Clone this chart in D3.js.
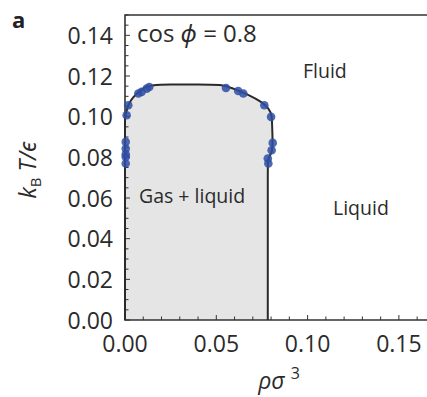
<!DOCTYPE html>
<html>
<head>
<meta charset="utf-8">
<script src="https://cdn.jsdelivr.net/npm/d3@7"></script>
<style>
  body { margin: 0; background: #fff; }
  svg { display: block; font-family: "Open Sans", "Noto Sans", sans-serif; }
</style>
</head>
<body>
<svg id="chart"></svg>
<script>
// coexistence boundary (rho sigma^3, kT/eps)
const boundaryRho = [0, 0, 0.0008, 0.0020, 0.0045, 0.0080, 0.0125, 0.0170, 0.0250, 0.0400, 0.0520, 0.0570, 0.0620, 0.0680, 0.0740, 0.0785, 0.0803, 0.0806, 0.0808, 0.0804, 0.0792, 0.0783, 0.0782, 0.0782];
const boundaryT   = [0, 0.0990, 0.1025, 0.1060, 0.1095, 0.1125, 0.1148, 0.1156, 0.1158, 0.1158, 0.1156, 0.1145, 0.1128, 0.1105, 0.1075, 0.1040, 0.1000, 0.0950, 0.0870, 0.0830, 0.0805, 0.0780, 0.0700, 0];

// simulation points
const pointRho = [0.0018, 0.0009, 0.0073, 0.0091, 0.0119, 0.0133, 0.0553, 0.0620, 0.0648, 0.0763, 0.0800, 0.0809, 0.0803, 0.0782, 0.0785, 0.0004, 0.0004, 0.0004, 0.0004, 0.0004];
const pointT   = [0.1056, 0.1007, 0.1114, 0.1122, 0.1138, 0.1146, 0.1141, 0.1126, 0.1114, 0.1056, 0.0999, 0.0871, 0.0835, 0.0794, 0.0770, 0.0876, 0.0843, 0.0802, 0.0770, 0.0815];

const xTicks = [0, 0.05, 0.10, 0.15];
const yTicks = [0, 0.02, 0.04, 0.06, 0.08, 0.10, 0.12, 0.14];
const regionLabels = ["Gas + liquid", "Liquid", "Fluid"];

const width = 427, height = 397;
const margin = { top: 15, left: 125, bottom: 77 };

const svg = d3.select("#chart").attr("width", width).attr("height", height);

const x = d3.scaleLinear().domain([0, 0.17]).range([margin.left, margin.left + 0.17 * 1826]);
const y = d3.scaleLinear().domain([0, 0.15]).range([height - margin.bottom, margin.top]);

const boundary = boundaryRho.map((r, i) => [r, boundaryT[i]]);
const points = pointRho.map((r, i) => [r, pointT[i]]);

// shaded two-phase region
svg.append("path")
  .attr("d", d3.area().x(d => x(d[0])).y0(y(0)).y1(d => y(d[1])).curve(d3.curveMonotoneY)(boundary))
  .attr("fill", "#e5e5e5");

// frame (left, top, bottom)
const x0 = x(0), x1 = x(0.17), yT = y(0.15), yB = y(0);
svg.append("path")
  .attr("d", `M${x1},${yT}H${x0}V${yB}H${x1}`)
  .attr("fill", "none").attr("stroke", "#333").attr("stroke-width", 1.6);

// inward ticks
const xMinor = d3.range(0, 0.171, 0.01);
svg.append("g").selectAll("line").data(xMinor).join("line")
  .attr("x1", d => x(d)).attr("x2", d => x(d))
  .attr("y1", yB).attr("y2", (d, i) => yB - (i % 5 === 0 ? 5 : 3.5))
  .attr("stroke", "#333").attr("stroke-width", 1);
const yMinor = d3.range(0, 0.1501, 0.005);
svg.append("g").selectAll("line").data(yMinor).join("line")
  .attr("y1", d => y(d)).attr("y2", d => y(d))
  .attr("x1", x0).attr("x2", (d, i) => x0 + (i % 4 === 0 ? 5 : 3.5))
  .attr("stroke", "#333").attr("stroke-width", 1);

// tick labels
svg.append("g").selectAll("text").data(xTicks).join("text")
  .attr("x", d => x(d)).attr("y", yB + 32)
  .attr("text-anchor", "middle").attr("font-size", 23).attr("fill", "#2b2b2b")
  .text(d => d3.format(".2f")(d));
svg.append("g").selectAll("text").data(yTicks).join("text")
  .attr("x", x0 - 12).attr("y", d => y(d) + 8.5)
  .attr("text-anchor", "end").attr("font-size", 23).attr("fill", "#2b2b2b")
  .text(d => d3.format(".2f")(d));

// boundary curve
svg.append("path")
  .attr("d", d3.line().x(d => x(d[0])).y(d => y(d[1])).curve(d3.curveMonotoneY)(boundary))
  .attr("fill", "none").attr("stroke", "#2a2a2a").attr("stroke-width", 2);

// points
svg.append("g").selectAll("circle").data(points).join("circle")
  .attr("cx", d => x(d[0])).attr("cy", d => y(d[1])).attr("r", 4.3)
  .attr("fill", "#2f4da3").attr("fill-opacity", 0.85);

// region labels
svg.append("text").attr("x", 139).attr("y", 203).attr("font-size", 19.5).attr("fill", "#2b2b2b").text(regionLabels[0]);
svg.append("text").attr("x", 333).attr("y", 215).attr("font-size", 19.5).attr("fill", "#2b2b2b").text(regionLabels[1]);
svg.append("text").attr("x", 303).attr("y", 78).attr("font-size", 19.5).attr("fill", "#2b2b2b").text(regionLabels[2]);

// cos phi annotation
const ann = svg.append("text").attr("x", 137).attr("y", 42).attr("font-size", 24).attr("fill", "#2b2b2b");
ann.append("tspan").text("cos ");
ann.append("tspan").attr("font-style", "italic").text("\u03D5");
ann.append("tspan").text(" = 0.8");

// axis titles
const xl = svg.append("text").attr("x", 279).attr("y", 389).attr("text-anchor", "middle")
  .attr("font-size", 23).attr("fill", "#2b2b2b").attr("font-style", "italic");
xl.append("tspan").text("\u03C1\u03C3 ");
xl.append("tspan").attr("dy", -10).attr("font-size", 16).attr("font-style", "normal").text("3");

const yl = svg.append("text").attr("transform", "translate(36,170) rotate(-90)").attr("text-anchor", "middle")
  .attr("font-size", 23).attr("fill", "#2b2b2b");
yl.append("tspan").attr("font-style", "italic").text("k");
yl.append("tspan").attr("dy", 5).attr("font-size", 15).text("B");
yl.append("tspan").attr("dy", -5).attr("font-style", "italic").text(" T/\u03F5");

// panel letter
svg.append("text").attr("x", 12).attr("y", 28).attr("font-size", 22).attr("font-weight", "bold").attr("fill", "#222").text("a");
</script>
</body>
</html>
